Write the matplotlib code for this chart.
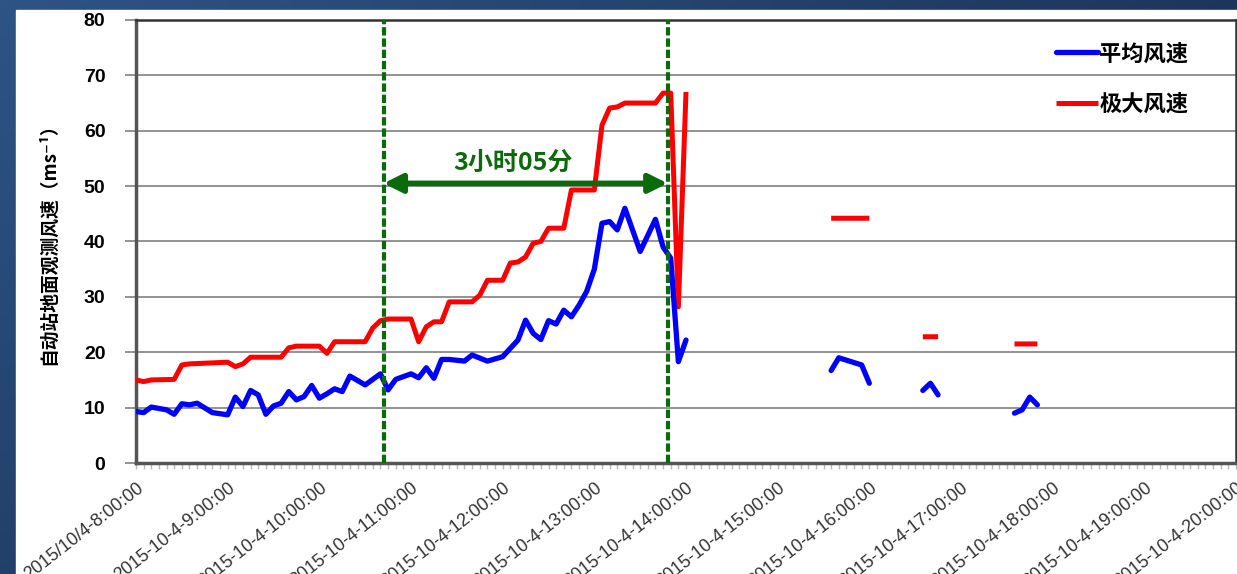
import numpy as np
import matplotlib
matplotlib.use("Agg")
import matplotlib.pyplot as plt
from matplotlib.ticker import MultipleLocator, FixedLocator

plt.rcParams['font.family'] = ['Liberation Sans', 'Noto Sans CJK SC', 'DejaVu Sans']
CJK = ['Noto Sans CJK SC', 'DejaVu Sans']

# minutes after 2015-10-4 08:00, None = no data (line break)
t_avg = [0, 5, 10, 20, 25, 30, 35, 40, 50, 60, 65, 70, 75, 80, 85, 90, 95, 100, 105, 110,
         115, 120, 125, 130, 135, 140, 150, 160, 165, 170, 180, 185, 190, 195, 200, 205,
         215, 220, 230, 240, 250, 255, 260, 265, 270, 275, 280, 285, 290, 295, 300, 305,
         310, 315, 320, 330, 340, 345, 350, 355, 360, None,
         455, 460, 475, 480, None, 515, 520, 525, None, 575, 580, 585, 590]
v_avg = [9.3, 9.1, 10.1, 9.6, 8.8, 10.7, 10.5, 10.8, 9.1, 8.7, 11.9, 10.2, 13.1, 12.3, 8.8,
         10.3, 10.8, 12.9, 11.4, 12.0, 14.0, 11.7, 12.5, 13.4, 12.9, 15.7, 14.1, 16.1, 13.2,
         15.1, 16.1, 15.4, 17.2, 15.3, 18.7, 18.7, 18.4, 19.5, 18.4, 19.2, 22.2, 25.8, 23.4,
         22.3, 25.7, 25.1, 27.6, 26.4, 28.5, 31.0, 35.0, 43.3, 43.6, 42.1, 46.0, 38.2, 44.0,
         39.0, 37.0, 18.3, 22.2, None,
         16.7, 19.0, 17.7, 14.4, None, 13.1, 14.4, 12.3, None, 9.0, 9.6, 11.9, 10.5]

t_max = [0, 5, 10, 25, 30, 35, 60, 65, 70, 75, 95, 100, 105, 120, 125, 130, 150, 155, 160,
         165, 180, 185, 190, 195, 200, 205, 220, 225, 230, 240, 245, 250, 255, 260, 265, 270,
         280, 285, 300, 305, 310, 315, 320, 340, 345, 350, 355, 360, None,
         455, 480, None, 515, 525, None, 575, 590]
v_max = [15.0, 14.7, 15.0, 15.1, 17.7, 17.9, 18.2, 17.4, 17.9, 19.1, 19.1, 20.8, 21.1, 21.1,
         19.8, 21.9, 21.9, 24.4, 25.7, 26.0, 26.0, 21.9, 24.6, 25.5, 25.5, 29.1, 29.1, 30.3,
         33.0, 33.0, 36.1, 36.3, 37.2, 39.7, 40.0, 42.4, 42.4, 49.3, 49.3, 61.0, 64.1, 64.3,
         65.0, 65.0, 66.8, 66.8, 28.2, 67.0, None,
         44.2, 44.2, None, 22.8, 22.8, None, 21.5, 21.5]

hour_labels = ['2015/10/4-8:00:00'] + ['2015-10-4-%d:00:00' % h for h in range(9, 21)]
mark_start, mark_end = 162, 348   # about 10:42 and 13:48
mark_text = '3小时05分'

fig = plt.figure(figsize=(12.37, 5.74), dpi=100)

# dark blue frame behind the white panel
bg = fig.add_axes([0, 0, 1, 1], zorder=-10)
gx = np.linspace(0, 1, 200)
gy = np.linspace(0, 1, 100)
X, Y = np.meshgrid(gx, gy)
c0 = np.array([0.18, 0.33, 0.52])
c1 = np.array([0.07, 0.13, 0.25])
w = np.clip(0.6 * X + 0.4 * Y, 0, 1)[..., None]
bg.imshow(c0 * (1 - w) + c1 * w, aspect='auto', extent=[0, 1, 0, 1], origin='upper')
bg.add_patch(plt.Rectangle((16 / 1237, 0), 1, 1 - 10 / 574, color='white'))
bg.set_xlim(0, 1)
bg.set_ylim(0, 1)
bg.axis('off')

ax = fig.add_axes([136 / 1237, 1 - 463 / 574, 1100 / 1237, 443 / 574])
ax.set_facecolor('white')

ta = np.array(t_avg, dtype=float)
va = np.array(v_avg, dtype=float)
tm = np.array(t_max, dtype=float)
vm = np.array(v_max, dtype=float)

ax.plot(ta, va, color='#0000ff', lw=3.8, solid_capstyle='round', label='平均风速', zorder=4)
ax.plot(tm, vm, color='#ff0000', lw=3.6, solid_capstyle='butt', label='极大风速', zorder=3)

for xm in (mark_start, mark_end):
    ax.axvline(xm, color='#0b6b0b', lw=3.0, dashes=(2.0, 0.7), zorder=5)

ax.annotate('', xy=(mark_start, 50.5), xytext=(mark_end, 50.5),
            arrowprops=dict(arrowstyle='<|-|>', color='#0b6b0b', lw=4,
                            mutation_scale=28, shrinkA=0, shrinkB=0), zorder=6)
ax.text(247, 52.0, mark_text, ha='center', va='bottom',
        fontsize=18, fontweight='bold', color='#0b6b0b', family=CJK, zorder=6)

ax.set_xlim(0, 720)
ax.set_ylim(0, 80)
ax.yaxis.set_major_locator(MultipleLocator(10))
ax.xaxis.set_major_locator(FixedLocator(np.arange(0, 721, 60)))
ax.xaxis.set_minor_locator(MultipleLocator(5))
ax.set_xticklabels(hour_labels, rotation=38, ha='right', rotation_mode='anchor',
                   fontsize=13, color='#333333')
for lab in ax.get_yticklabels():
    lab.set_fontweight('bold')
    lab.set_fontsize(14)

ax.grid(axis='y', color='#8a8a8a', lw=1.3)
ax.set_axisbelow(True)
ax.tick_params(axis='y', length=8, width=1.3, color='#8a8a8a', pad=14)
ax.tick_params(axis='x', which='both', length=4, width=1.0, color='#bbbbbb', pad=8)

for side in ('left', 'bottom'):
    ax.spines[side].set_color('#555555')
    ax.spines[side].set_linewidth(2.5)
for side in ('top', 'right'):
    ax.spines[side].set_color('#333333')
    ax.spines[side].set_linewidth(1.8)

ax.set_ylabel('自动站地面观测风速（ms⁻¹）', family=CJK, fontsize=13.5,
              fontweight='bold')
ax.yaxis.set_label_coords(-0.071, 0.505)

leg = ax.legend(loc='upper right', bbox_to_anchor=(0.975, 0.995), frameon=False,
                prop={'family': CJK, 'size': 16, 'weight': 'bold'},
                handlelength=1.9, handletextpad=0.05, labelspacing=1.24)

fig.savefig('out.png', dpi=100)
